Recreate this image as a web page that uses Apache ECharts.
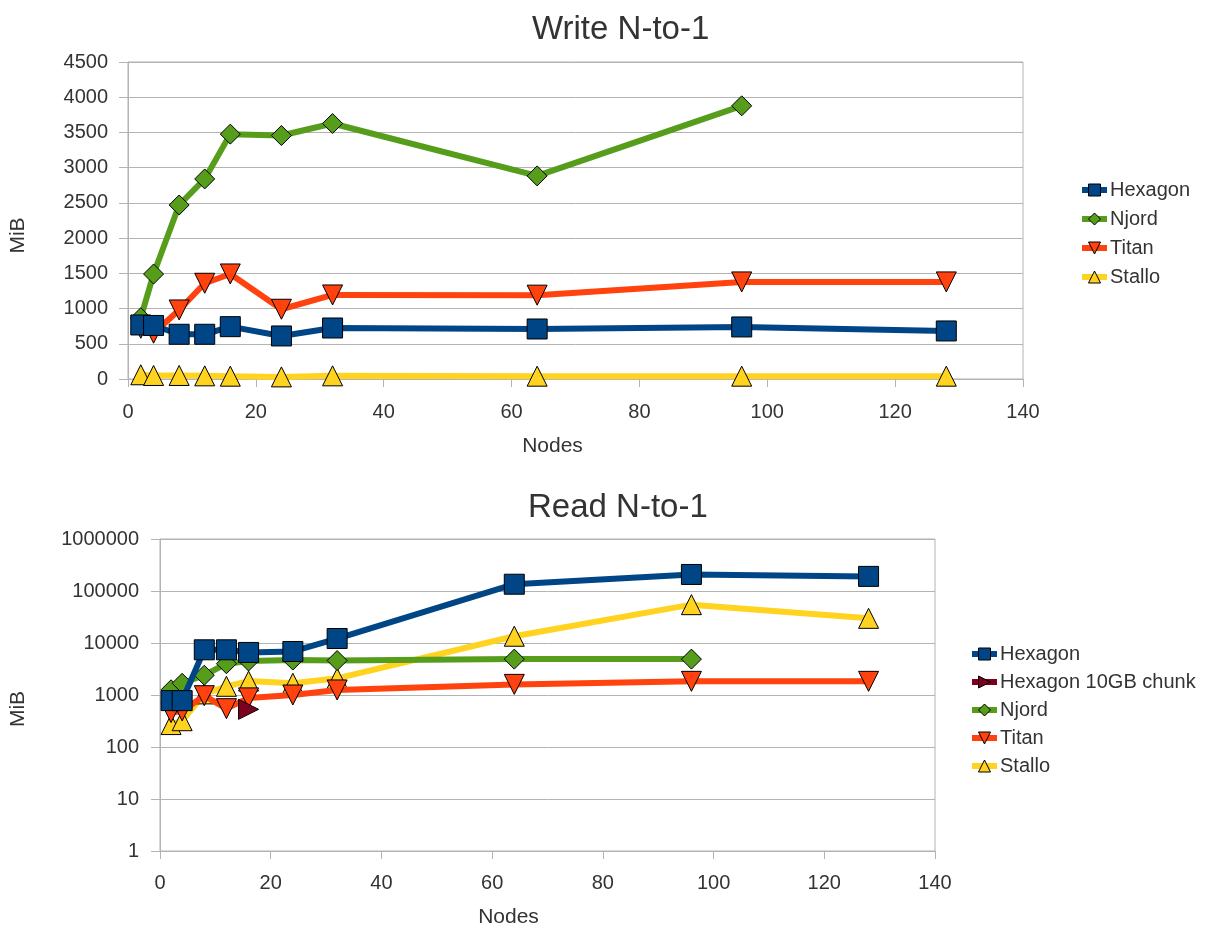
<!DOCTYPE html>
<html>
<head>
<meta charset="utf-8">
<script src="https://cdn.jsdelivr.net/npm/echarts@6/dist/echarts.min.js"></script>
<style>
  html, body { margin: 0; padding: 0; background: #fff; }
  #chart { width: 1215px; height: 929px; }
</style>
</head>
<body>
<div id="chart"></div>
<script>
// Node counts used in the benchmark runs
const nodes = [2, 4, 8, 12, 16, 24, 32, 64, 96, 128];
const njordNodes = [2, 4, 8, 12, 16, 24, 32, 64, 96];
const chunkNodes = [16];

// Write N-to-1 throughput (MiB)
const hexagonWrite = [767, 760, 635, 635, 743, 611, 724, 710, 739, 682];
const njordWrite = [870, 1490, 2470, 2840, 3476, 3456, 3627, 2883, 3878];
const titanWrite = [720, 650, 980, 1359, 1491, 990, 1193, 1190, 1378, 1378];
const stalloWrite = [60, 50, 50, 45, 40, 30, 45, 40, 40, 40];

// Read N-to-1 throughput (MiB, log scale)
const hexagonRead = [780, 780, 7400, 7400, 6580, 6870, 12200, 135000, 208000, 191000];
const hexagonChunkRead = [530];
const njordRead = [1260, 1680, 2400, 4000, 4500, 4700, 4600, 4900, 4900];
const titanRead = [460, 494, 970, 546, 880, 1000, 1250, 1600, 1830, 1830];
const stalloRead = [270, 320, 1050, 1470, 1850, 1680, 2090, 13500, 54600, 29800];

const writeLegend = ['Hexagon', 'Njord', 'Titan', 'Stallo'];
const readLegend = ['Hexagon', 'Hexagon 10GB chunk', 'Njord', 'Titan', 'Stallo'];

const COLORS = {
  'Hexagon': '#004586',
  'Hexagon 10GB chunk': '#7e0021',
  'Njord': '#579d1c',
  'Titan': '#ff420e',
  'Stallo': '#ffd320'
};
const SYMBOLS = {
  'Hexagon': ['rect', 0],
  'Hexagon 10GB chunk': ['triangle', -90],
  'Njord': ['diamond', 0],
  'Titan': ['triangle', 180],
  'Stallo': ['triangle', 0]
};
const ORDER_Z = { 'Hexagon': 7, 'Hexagon 10GB chunk': 6, 'Njord': 5, 'Titan': 4, 'Stallo': 3 };

const GRAY = '#b3b3b3';
const TEXT = '#333333';
const FONT = 'Liberation Sans';
const TICK_SIZE = 20;

function pairs(xs, ys) {
  return xs.map((x, i) => [x, ys[i]]);
}

function lineSeries(name, xs, ys, gridIdx) {
  const [sym, rot] = SYMBOLS[name];
  return {
    name: name,
    type: 'line',
    xAxisIndex: gridIdx,
    yAxisIndex: gridIdx,
    data: pairs(xs, ys),
    symbol: sym,
    symbolRotate: rot,
    symbolSize: 20,
    showAllSymbol: true,
    z: ORDER_Z[name],
    lineStyle: { color: COLORS[name], width: 6 },
    itemStyle: { color: COLORS[name], borderColor: '#000', borderWidth: 1 },
    emphasis: { disabled: true }
  };
}

function xAxisCfg(gridIdx, labelMargin, nameGap, namePad) {
  return {
    type: 'value',
    gridIndex: gridIdx,
    min: 0, max: 140, interval: 20,
    name: 'Nodes',
    nameLocation: 'middle',
    nameGap: nameGap,
    nameTextStyle: { fontFamily: FONT, fontSize: 21, color: TEXT, padding: [0, namePad, 0, 0] },
    axisLine: { show: true, onZero: false, lineStyle: { color: GRAY, width: 1 } },
    axisTick: { show: true, inside: false, length: 8, lineStyle: { color: GRAY } },
    axisLabel: { fontFamily: FONT, fontSize: TICK_SIZE, color: TEXT, margin: labelMargin },
    splitLine: { show: false }
  };
}

function legendCfg(names, left, top, gap) {
  return {
    data: names, orient: 'vertical', left: left, top: top,
    itemWidth: 25, itemHeight: 15, itemGap: gap, selectedMode: false,
    lineStyle: { width: 6 },
    itemStyle: { borderColor: '#000', borderWidth: 1 },
    textStyle: { fontFamily: FONT, fontSize: TICK_SIZE, color: TEXT, padding: [0, 0, 0, -2] }
  };
}

const option = {
  animation: false,
  backgroundColor: '#ffffff',
  textStyle: { fontFamily: FONT },
  title: [
    { text: 'Write N-to-1', left: 527, top: 8,
      textStyle: { fontFamily: FONT, fontSize: 33, fontWeight: 'normal', color: TEXT } },
    { text: 'Read N-to-1', left: 523, top: 486,
      textStyle: { fontFamily: FONT, fontSize: 33, fontWeight: 'normal', color: TEXT } }
  ],
  legend: [
    legendCfg(writeLegend, 1074, 175, 9),
    legendCfg(readLegend, 964, 639, 8)
  ],
  grid: [
    { left: 125, top: 62, width: 898, height: 317, show: true, borderColor: GRAY, borderWidth: 1 },
    { left: 157, top: 539, width: 778, height: 322, show: true, borderColor: GRAY, borderWidth: 1 }
  ],
  xAxis: [
    xAxisCfg(0, 23, 57, 46),
    xAxisCfg(1, 22, 56, 78)
  ],
  yAxis: [
    {
      type: 'value', gridIndex: 0,
      min: 0, max: 4500, interval: 500,
      name: 'MiB', nameLocation: 'middle', nameGap: 99,
      nameTextStyle: { fontFamily: FONT, fontSize: 21, color: TEXT, padding: [0, 30, 0, 0] },
      axisLine: { show: true, lineStyle: { color: GRAY, width: 1 } },
      axisTick: { show: true, inside: false, length: 9, lineStyle: { color: GRAY } },
      axisLabel: { fontFamily: FONT, fontSize: TICK_SIZE, color: TEXT, margin: 20,
        formatter: v => String(v) },
      splitLine: { show: true, lineStyle: { color: GRAY, width: 1 } }
    },
    {
      type: 'log', logBase: 10, gridIndex: 1,
      min: 1, max: 1000000,
      name: 'MiB', nameLocation: 'middle', nameGap: 131,
      nameTextStyle: { fontFamily: FONT, fontSize: 21, color: TEXT, padding: [0, 28, 0, 0] },
      axisLine: { show: true, lineStyle: { color: GRAY, width: 1 } },
      axisTick: { show: true, inside: false, length: 9, lineStyle: { color: GRAY } },
      axisLabel: { fontFamily: FONT, fontSize: TICK_SIZE, color: TEXT, margin: 21,
        formatter: v => String(Math.round(v)) },
      splitLine: { show: true, lineStyle: { color: GRAY, width: 1 } }
    }
  ],
  series: [
    lineSeries('Hexagon', nodes, hexagonWrite, 0),
    lineSeries('Njord', njordNodes, njordWrite, 0),
    lineSeries('Titan', nodes, titanWrite, 0),
    lineSeries('Stallo', nodes, stalloWrite, 0),

    lineSeries('Hexagon', nodes, hexagonRead, 1),
    lineSeries('Hexagon 10GB chunk', chunkNodes, hexagonChunkRead, 1),
    lineSeries('Njord', njordNodes, njordRead, 1),
    lineSeries('Titan', nodes, titanRead, 1),
    lineSeries('Stallo', nodes, stalloRead, 1)
  ]
};

const chart = echarts.init(document.getElementById('chart'), null, { renderer: 'canvas' });
chart.setOption(option);
</script>
</body>
</html>
